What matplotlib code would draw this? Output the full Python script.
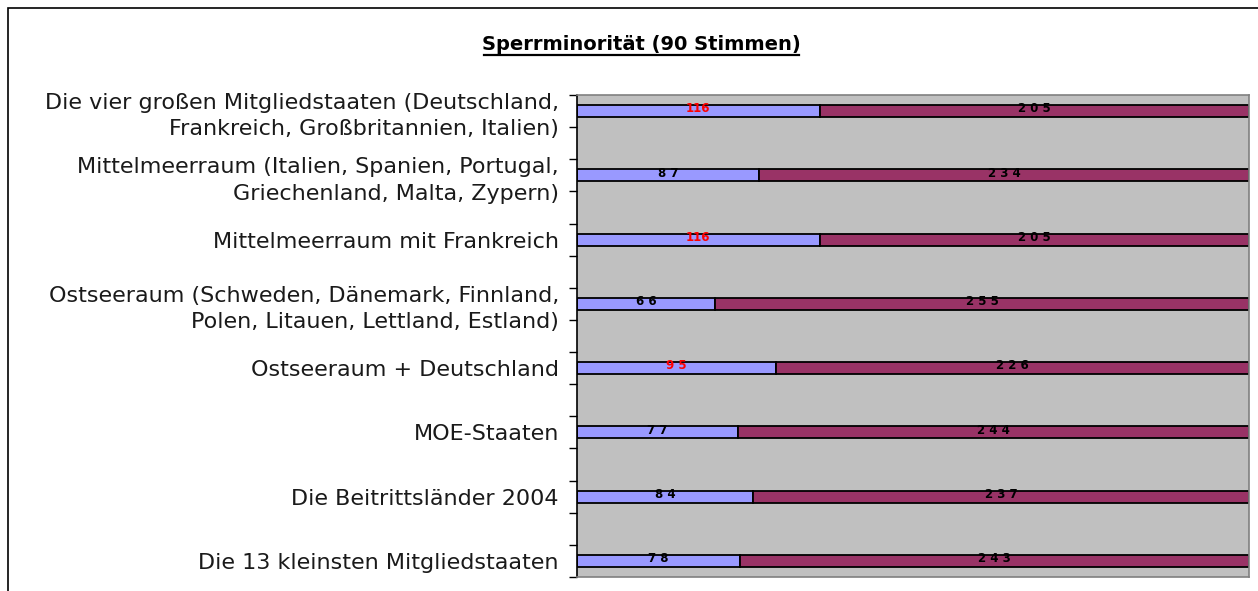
import matplotlib.pyplot as plt
import numpy as np
from matplotlib.patches import Rectangle

categories = [
    "Die vier großen Mitgliedstaaten (Deutschland,\nFrankreich, Großbritannien, Italien)",
    "Mittelmeerraum (Italien, Spanien, Portugal,\nGriechenland, Malta, Zypern)",
    "Mittelmeerraum mit Frankreich",
    "Ostseeraum (Schweden, Dänemark, Finnland,\nPolen, Litauen, Lettland, Estland)",
    "Ostseeraum + Deutschland",
    "MOE-Staaten",
    "Die Beitrittsländer 2004",
    "Die 13 kleinsten Mitgliedstaaten",
]
group_votes = [116, 87, 116, 66, 95, 77, 84, 78]
other_votes = [205, 234, 205, 255, 226, 244, 237, 243]
# labels drawn red where the group reaches the blocking minority
blocking = [True, False, True, False, True, False, False, False]


def spaced(n):
    # Excel style wide digit spacing; the narrow "1" stays tight
    s = str(n)
    out = ""
    for i, ch in enumerate(s):
        out += ch
        if i < len(s) - 1 and ch != "1" and s[i + 1] != "1":
            out += " "
    return out


W, H = 1258, 591
fig = plt.figure(figsize=(W / 100, H / 100), dpi=100)
fig.patch.set_facecolor("white")

# chart frame (only top and left edges visible)
fig.add_artist(Rectangle((8 / W, -0.1), 1.1, 1 - 8 / H + 0.1, transform=fig.transFigure,
                         fill=False, edgecolor="black", linewidth=1.2))

ax = fig.add_axes([577 / W, 1 - 577 / H, (1249 - 577) / W, (577 - 95) / H])
ax.set_facecolor("#C0C0C0")

# categories sit on every second slot, the slots in between stay empty
y = np.arange(len(categories)) * 2
bar_h = 0.37
ax.barh(y, group_votes, height=bar_h, color="#9999FF", edgecolor="black", linewidth=1.3)
ax.barh(y, other_votes, left=group_votes, height=bar_h, color="#993366",
        edgecolor="black", linewidth=1.3)

for yi, g, o, red in zip(y, group_votes, other_votes, blocking):
    ax.text(g / 2, yi - 0.07, spaced(g), ha="center", va="center",
            fontsize=8.5, fontweight="bold", color="red" if red else "black")
    ax.text(g + o / 2, yi - 0.07, spaced(o), ha="center", va="center",
            fontsize=8.5, fontweight="bold", color="black")

ax.set_xlim(0, 321)
ax.set_ylim(len(categories) * 2 - 1.5, -0.5)
ax.set_xticks([])

ax.set_yticks(y)
ax.set_yticklabels(categories, fontsize=16, color="#1a1a1a", linespacing=1.4)
ax.tick_params(axis="y", which="major", length=0, pad=13)
ax.set_yticks(np.arange(-0.5, len(categories) * 2 - 1, 1), minor=True)
ax.tick_params(axis="y", which="minor", length=6, width=1, color="black", direction="out")

ax.spines["left"].set_color("black")
ax.spines["left"].set_linewidth(1.2)
for s in ["top", "right", "bottom"]:
    ax.spines[s].set_color("#808080")
    ax.spines[s].set_linewidth(1.2)

fig.text(641 / W, 1 - 44 / H, "Sperrminorität (90 Stimmen)", ha="center", va="center",
         fontsize=14, fontweight="bold")
# underline of the title
fig.add_artist(plt.Line2D([484 / W, 799 / W], [1 - 55 / H, 1 - 55 / H],
                          transform=fig.transFigure, color="black", linewidth=1.6))

fig.savefig("out.png", dpi=100)
